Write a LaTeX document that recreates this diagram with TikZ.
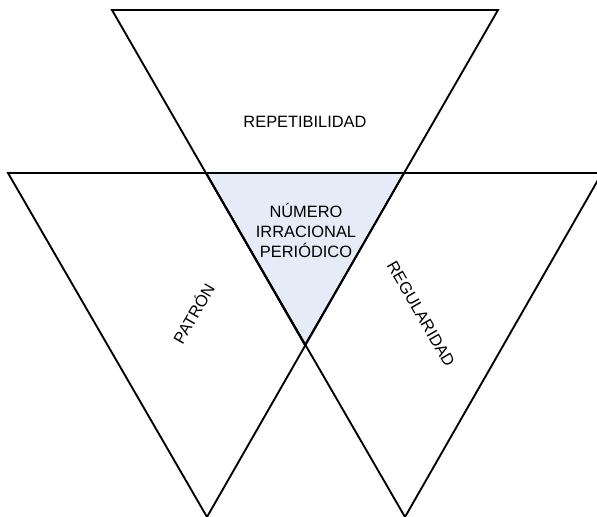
\documentclass[tikz,border=0pt]{standalone}
\usepackage{fontspec}
\setmainfont{Liberation Sans}
\usepackage{tikz}
\usetikzlibrary{positioning}
\definecolor{corecolor}{RGB}{229, 235, 247}
\definecolor{edgecolor}{RGB}{0, 0, 0}
\tikzstyle{tri} = [draw=edgecolor, line width=1.4pt, line join=miter]
\tikzstyle{label} = [font=\fontsize{12.3}{15}\selectfont, text centered, align=center, inner sep=1pt]

\begin{document}
\begin{tikzpicture}[x=0.75pt, y=-0.75pt]
    \useasboundingbox (0,0) rectangle (597,517);
    % corners
    \coordinate (tl) at (112,10);
    \coordinate (tr) at (498,10);
    \coordinate (mid) at (305,345);
    \coordinate (ll) at (8,173);
    \coordinate (lm) at (206,173);
    \coordinate (rm) at (404,173);
    \coordinate (rr) at (602,173);
    \coordinate (lb) at (207,517);
    \coordinate (rb) at (405,517);
    % shaded core
    \fill[corecolor] (lm) -- (rm) -- (mid) -- cycle;
    % triangles
    \draw[tri] (tl) -- (tr) -- (mid) -- cycle;
    \draw[tri] (ll) -- (rm) -- (lb) -- cycle;
    \draw[tri] (lm) -- (rr) -- (rb) -- cycle;
    \draw[tri] (lm) -- (mid);
    % texts
    \node[label] (rep) at (305,122) {REPETIBILIDAD};
    \node[label] (num) at (306,230) {NÚMERO\\IRRACIONAL\\PERIÓDICO};
    \node[label, rotate=60] (pat) at (193,313) {PATRÓN};
    \node[label, rotate=-60] (reg) at (421,314) {REGULARIDAD};
\end{tikzpicture}
\end{document}
